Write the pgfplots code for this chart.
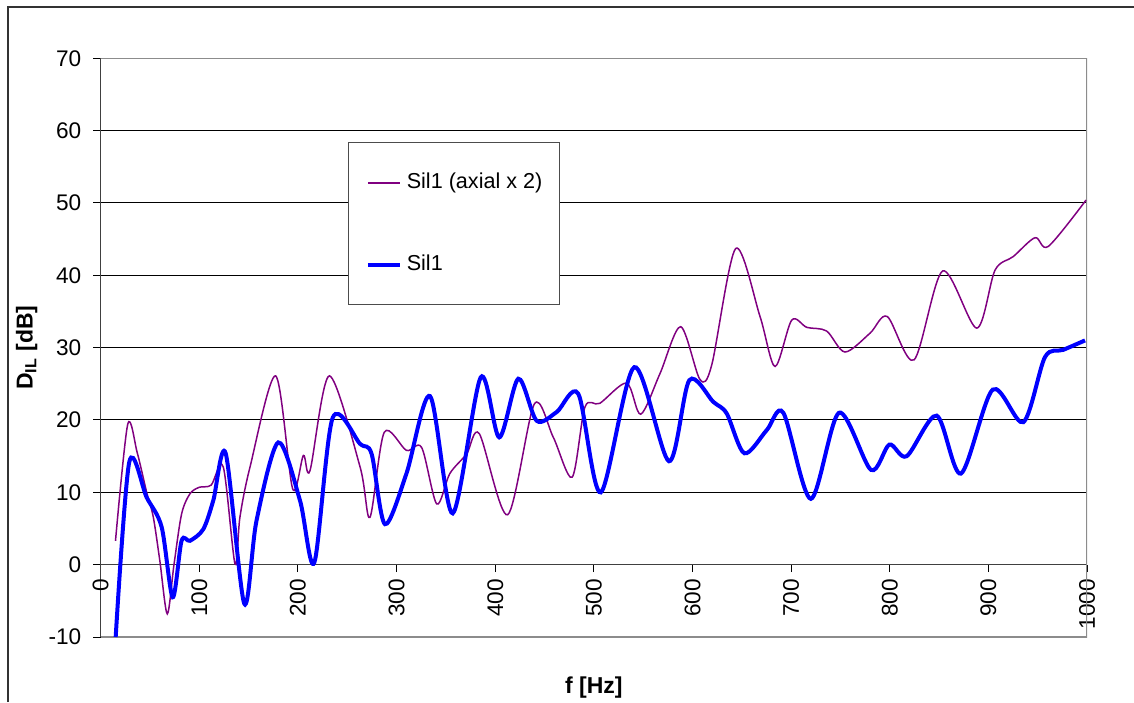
\documentclass[border=0pt]{standalone}
\usepackage{fontspec}
\setmainfont{Liberation Sans}
\usepackage{pgfplots}
\pgfplotsset{compat=1.18}
\definecolor{purp}{RGB}{128,0,128}
\definecolor{blu}{RGB}{0,0,255}
\begin{document}
\begin{tikzpicture}
\begin{axis}[
  scale only axis, width=493.15pt, height=289.35pt,
  at={(50.35pt,32.5pt)}, anchor=south west,
  xmin=0, xmax=1000, ymin=-10, ymax=70,
  axis x line*=middle, axis y line*=left,
  hide obscured x ticks=false, hide obscured y ticks=false,
  xtick={0,100,...,1000}, ytick={-10,0,...,70},
  xticklabels={0,100,200,300,400,500,600,700,800,900,1000},
  yticklabels={-10,0,10,20,30,40,50,60,70},
  xtick align=outside, ytick align=outside,
  major tick length=3.75pt,
  tick style={black, line width=0.5pt},
  axis line style={black!75, line width=0.6pt},
  ymajorgrids, major grid style={black, line width=0.5pt},
  /pgf/number format/1000 sep={},
  tick label style={font=\fontsize{11.3}{13}\selectfont},
  xticklabel style={rotate=90, anchor=east},
  yticklabel style={anchor=east, inner sep=0pt, xshift=-5.8pt},
  label style={font=\fontsize{11.5}{13}\selectfont\bfseries},
  xlabel={f [Hz]}, ylabel={D\textsubscript{IL} [dB]},
  xlabel style={at={(axis description cs:0.5,-0.088)}, anchor=center},
  ylabel style={at={(axis description cs:-0.075,0.5)}, anchor=center},
  legend image code/.code={\draw[#1] (0pt,0pt) -- (16pt,0pt);},
  legend cell align=left,
  legend style={at={(axis description cs:0.251,0.855)}, anchor=north west,
    draw=black!70, line width=0.5pt, inner xsep=8.5pt, inner ysep=15pt,
    row sep=30.5pt, font=\fontsize{10.8}{12}\selectfont,
    nodes={inner sep=0pt, text height=8pt, text depth=2.3pt},
    /tikz/every odd column/.append style={column sep=2.5pt}},
  clip=true,
]
\draw[black!45, line width=0.6pt] (rel axis cs:0,0) -- (rel axis cs:1,0) -- (rel axis cs:1,1) -- (rel axis cs:0,1);
\addplot[purp, line width=0.75pt, smooth, tension=0.5] coordinates {
(15,3.3) (27.4,19.4) (37,15.5) (46.6,10) (53.3,6.6) (60,0.5) (67.5,-6.8)
(74.3,0) (82,7) (90.5,9.8) (100,10.7) (112,11) (124.3,13.5) (136.2,0.1)
(141.2,6.6) (151.4,13.5) (177.4,26.1) (194.6,10.5) (205.5,15.1) (212.2,13.0)
(231.8,26.1) (263,13.5) (273,6.55) (287.5,18.3) (310,15.8) (325.4,16.2)
(340.7,8.4) (354,12.6) (371,15.3) (383.9,18.1) (412.6,6.9) (439.6,22.2)
(458.9,17.6) (478,12.1) (491,21.8) (506,22.3) (533.3,25.1) (547.5,20.8)
(567,26.4) (588,32.9) (607.6,25.6) (619.5,27.6) (643.8,43.7) (668.5,34.3)
(683.7,27.4) (700.6,33.8) (716,32.8) (736,32.3) (754.6,29.4) (780,32)
(797.5,34.3) (824.6,28.3) (853.7,40.6) (888.2,32.7) (906.7,40.7) (925.3,42.6)
(947.3,45.2) (960.8,44) (999,50.4)
};
\addlegendentry{Sil1 (axial x 2)}
\addplot[blu, line width=2pt, smooth, tension=0.5] coordinates {
(15.2,-10) (29,14.2) (46.6,9.3) (61.8,5.2) (73,-4.5) (82,3.3) (90.5,3.3)
(104,4.9) (114.2,8.9) (126.7,15.4) (145.6,-5.4) (158,6.1) (180,16.9)
(202,8.9) (216.6,0.3) (235.2,20.3) (263,16.7) (274.7,15.3) (288.2,5.6)
(310,12.6) (333.9,23.3) (356.9,7.1) (385.3,25.9) (404.1,17.6) (423.4,25.7)
(442,19.9) (462.3,21.1) (484.3,23.6) (507,10.0) (541,27.3) (576.2,14.3)
(596.8,25.5) (621.1,22.5) (634.7,20.9) (652.6,15.4) (675.3,18.6) (692.1,21.0)
(720,9.1) (748.6,21.0) (781,13.1) (799.6,16.6) (817.2,15.0) (847.6,20.6)
(872.2,12.6) (904.4,24.2) (935.4,19.7) (957.4,28.7) (976,29.7) (998,31.0)
};
\addlegendentry{Sil1}
\end{axis}
\draw[black!80, line width=1pt] (4pt,0pt) -- (4pt,347.5pt) -- (567pt,347.5pt);
\pgfresetboundingbox
\path (0pt,0pt) rectangle (567pt,351pt);
\end{tikzpicture}
\end{document}
